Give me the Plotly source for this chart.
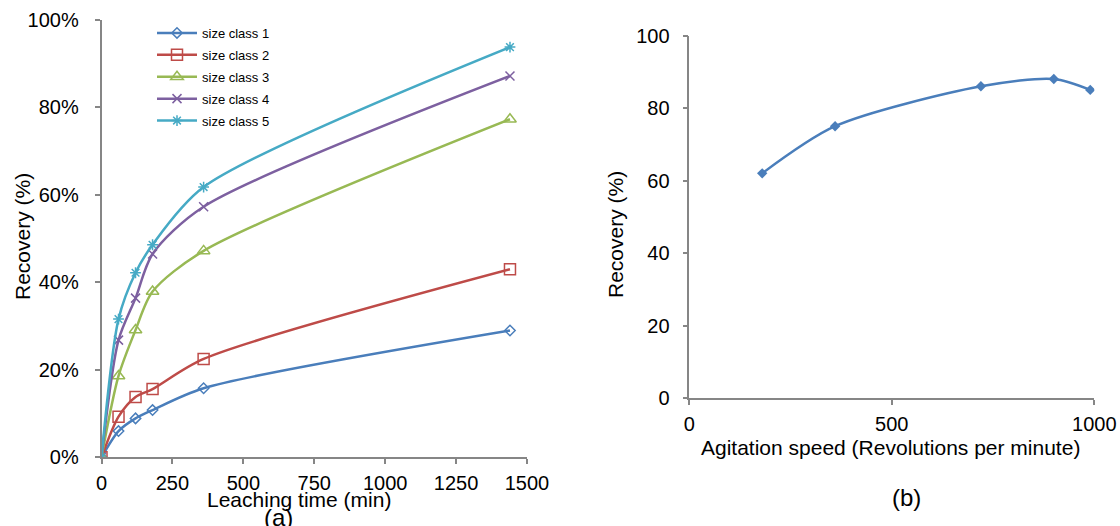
import plotly.graph_objects as go

# ---- data (a) ----
time_min = [0, 60, 120, 180, 360, 1440]
class1 = [0, 6.0, 8.9, 10.8, 15.8, 29.0]
class2 = [0, 9.3, 13.8, 15.6, 22.5, 43.0]
class3 = [0, 18.6, 29.1, 37.9, 47.2, 77.3]
class4 = [0, 26.8, 36.4, 46.5, 57.3, 87.2]
class5 = [0, 31.6, 42.2, 48.6, 61.8, 93.8]
series_names = ["size class 1", "size class 2", "size class 3", "size class 4", "size class 5"]

# ---- data (b) ----
speed_rpm = [180, 360, 720, 900, 990]
recovery_b = [62, 75, 86, 88, 85]

colors = ["#4A7EBB", "#BE4B48", "#98B954", "#7D60A0", "#46AAC5"]
symbols = ["diamond-open", "square-open", "triangle-up-open", "x-thin-open", "asterisk-open"]
msizes = [8, 11, 11, 9, 9]

FONT = "Liberation Sans, Arial"

fig = go.Figure()
for i, (name, ys, c, s, ms) in enumerate(zip(series_names, [class1, class2, class3, class4, class5], colors, symbols, msizes)):
    fig.add_trace(go.Scatter(
        x=time_min, y=[v / 100 for v in ys], name=name, mode="lines+markers",
        legendgroup=f"g{i}",
        line=dict(color=c, width=2.5, shape="spline", smoothing=0.8),
        marker=dict(symbol=s, size=ms, color=c, line=dict(color=c, width=1.5)),
        xaxis="x", yaxis="y"))

fig.add_trace(go.Scatter(
    x=speed_rpm, y=recovery_b, mode="lines+markers", showlegend=False,
    line=dict(color="#4A7EBB", width=2.5, shape="spline", smoothing=0.8),
    marker=dict(symbol="diamond", size=8, color="#4A7EBB"),
    xaxis="x2", yaxis="y2"))

axis_common = dict(showgrid=False, zeroline=False, showline=True, linecolor="#868686", linewidth=1.5,
                   ticks="outside", tickcolor="#868686", ticklen=5, tickwidth=1.5, automargin=False,
                   tickfont=dict(family=FONT, size=20, color="#000"))

fig.update_layout(
    width=1120, height=526, margin=dict(l=0, r=0, t=0, b=0, autoexpand=False),
    paper_bgcolor="white", plot_bgcolor="white",
    font=dict(family=FONT, color="#000"),
    xaxis=dict(domain=[101.5 / 1120, 527 / 1120], range=[0, 1500], tickvals=[0, 250, 500, 750, 1000, 1250, 1500],
               anchor="y", ticklabelstandoff=2, **axis_common),
    yaxis=dict(domain=[68.7 / 526, 506 / 526], range=[0, 1], tickvals=[0, 0.2, 0.4, 0.6, 0.8, 1.0],
               tickformat=".0%", anchor="x", ticklabelstandoff=12, **axis_common),
    xaxis2=dict(domain=[689.3 / 1120, 1094.3 / 1120], range=[0, 1000], tickvals=[0, 500, 1000],
                anchor="y2", ticklabelstandoff=2, **axis_common),
    yaxis2=dict(domain=[127.7 / 526, 490.5 / 526], range=[0, 100], tickvals=[0, 20, 40, 60, 80, 100],
                anchor="x2", ticklabelstandoff=9, **axis_common),
    legend=dict(x=152 / 1120, y=1 - 18 / 526, xanchor="left", yanchor="top",
                font=dict(family=FONT, size=13, color="#000"),
                bgcolor="rgba(0,0,0,0)", tracegroupgap=2, itemwidth=40),
    showlegend=True,
)

fig.add_annotation(text="Leaching time (min)", x=298.5 / 1120, y=1 - 499 / 526, xref="paper", yref="paper",
                   showarrow=False, font=dict(family=FONT, size=21, color="#000"), xanchor="center", yanchor="middle")
fig.add_annotation(text="(a)", x=278 / 1120, y=1 - 517 / 526, xref="paper", yref="paper",
                   showarrow=False, font=dict(family=FONT, size=24, color="#000"),
                   xanchor="center", yanchor="middle")
fig.add_annotation(text="Recovery (%)", x=22 / 1120, y=1 - 237 / 526, xref="paper", yref="paper",
                   showarrow=False, font=dict(family=FONT, size=21, color="#000"), textangle=-90,
                   xanchor="center", yanchor="middle")
fig.add_annotation(text="Agitation speed (Revolutions per minute)", x=890 / 1120, y=1 - 447 / 526,
                   xref="paper", yref="paper", showarrow=False,
                   font=dict(family=FONT, size=21, color="#000"),
                   xanchor="center", yanchor="middle")
fig.add_annotation(text="(b)", x=906 / 1120, y=1 - 497 / 526, xref="paper", yref="paper",
                   showarrow=False, font=dict(family=FONT, size=24, color="#000"),
                   xanchor="center", yanchor="middle")
fig.add_annotation(text="Recovery (%)", x=615 / 1120, y=1 - 235 / 526, xref="paper", yref="paper",
                   showarrow=False, font=dict(family=FONT, size=21, color="#000"),
                   textangle=-90, xanchor="center", yanchor="middle")

fig.write_html("out.html")
